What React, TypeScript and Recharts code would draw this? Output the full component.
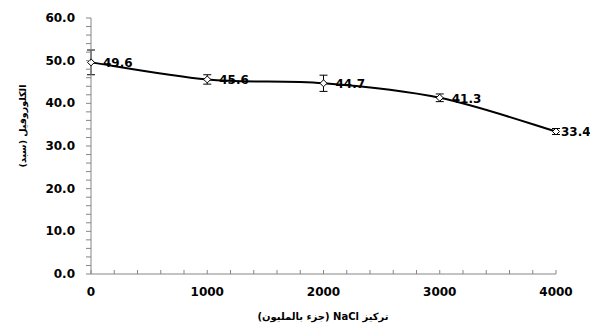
import React from "react";
import { LineChart, Line, XAxis, YAxis, ErrorBar, LabelList } from "recharts";

const concentrations = [0, 1000, 2000, 3000, 4000];
const chlorophyll = [49.6, 45.6, 44.7, 41.3, 33.4];
const errors = [2.9, 1.1, 1.9, 0.9, 0.7];
const xTicks = [0, 200, 400, 600, 800, 1000, 1200, 1400, 1600, 1800, 2000, 2200, 2400, 2600, 2800, 3000, 3200, 3400, 3600, 3800, 4000];
const yTicks = [0, 2, 4, 6, 8, 10, 12, 14, 16, 18, 20, 22, 24, 26, 28, 30, 32, 34, 36, 38, 40, 42, 44, 46, 48, 50, 52, 54, 56, 58, 60];

const data = concentrations.map((c, i) => ({ c, v: chlorophyll[i], err: errors[i] }));

const FONT = "'DejaVu Sans', Verdana, sans-serif";
const AXIS = "#868686";

// Excel-style smoothing (Catmull-Rom as cubic Bezier)
function excelSmooth(context: any) {
  let pts: number[][] = [];
  return {
    areaStart() {},
    areaEnd() {},
    lineStart() {
      pts = [];
    },
    point(x: number, y: number) {
      pts.push([+x, +y]);
    },
    lineEnd() {
      const n = pts.length;
      if (!n) return;
      context.moveTo(pts[0][0], pts[0][1]);
      for (let i = 0; i < n - 1; i++) {
        const p0 = pts[Math.max(i - 1, 0)];
        const p1 = pts[i];
        const p2 = pts[i + 1];
        const p3 = pts[Math.min(i + 2, n - 1)];
        context.bezierCurveTo(
          p1[0] + (p2[0] - p0[0]) / 6,
          p1[1] + (p2[1] - p0[1]) / 6,
          p2[0] - (p3[0] - p1[0]) / 6,
          p2[1] - (p3[1] - p1[1]) / 6,
          p2[0],
          p2[1]
        );
      }
    },
  };
}

function XTick({ x, y, payload }: any) {
  const v = payload.value;
  return (
    <g>
      <line x1={x} x2={x} y1={y - 4} y2={y} stroke={AXIS} />
      {v % 1000 === 0 && (
        <text x={x} y={y + 22} textAnchor="middle" fontFamily={FONT} fontWeight="bold" fontSize={12} fill="#000">
          {v}
        </text>
      )}
    </g>
  );
}

function YTick({ x, y, payload }: any) {
  const v = payload.value;
  return (
    <g>
      <line x1={x - 5} x2={x} y1={y} y2={y} stroke={AXIS} />
      {v % 10 === 0 && (
        <text x={x - 16} y={y + 4} textAnchor="end" fontFamily={FONT} fontWeight="bold" fontSize={12} fill="#000">
          {v.toFixed(1)}
        </text>
      )}
    </g>
  );
}

function Diamond({ cx, cy }: any) {
  if (cx == null || cy == null) return null;
  const r = 3.5;
  return (
    <polygon
      points={`${cx},${cy - r} ${cx + r},${cy} ${cx},${cy + r} ${cx - r},${cy}`}
      fill="#fff"
      stroke="#000"
      strokeWidth={1}
    />
  );
}

function ValueLabel({ x, y, value, index }: any) {
  const dx = index === concentrations.length - 1 ? 5 : 12;
  return (
    <text x={x + dx} y={y + 5} fontFamily={FONT} fontWeight="bold" fontSize={12} fill="#000">
      {Number(value).toFixed(1)}
    </text>
  );
}

export default function App() {
  return (
    <div style={{ position: "absolute", left: 0, top: 0, width: 590, height: 329, background: "#fff" }}>
      <LineChart width={590} height={329} data={data} margin={{ top: 18, right: 34, bottom: 15, left: 0 }}>
        <XAxis
          dataKey="c"
          type="number"
          domain={[0, 4000]}
          ticks={xTicks}
          interval={0}
          tick={<XTick />}
          tickLine={false}
          tickSize={0}
          tickMargin={0}
          height={40}
          stroke={AXIS}
        />
        <YAxis
          type="number"
          domain={[0, 60]}
          ticks={yTicks}
          interval={0}
          tick={<YTick />}
          tickLine={false}
          tickSize={0}
          tickMargin={0}
          width={91}
          stroke={AXIS}
        />
        <Line
          type={excelSmooth as any}
          dataKey="v"
          stroke="#000"
          strokeWidth={2}
          dot={<Diamond />}
          activeDot={false}
          isAnimationActive={false}
        >
          <ErrorBar dataKey="err" width={4} stroke="#000" strokeWidth={1} direction="y" />
          <LabelList dataKey="v" content={<ValueLabel />} />
        </Line>
      </LineChart>
      <div
        style={{
          position: "absolute",
          left: 0,
          top: 311,
          width: 646,
          textAlign: "center",
          fontFamily: FONT,
          fontWeight: "bold",
          fontSize: 10,
          direction: "rtl",
        }}
      >
        تركيز NaCl (جزء بالمليون)
      </div>
      <div
        style={{
          position: "absolute",
          left: 22,
          top: 126,
          transform: "translate(-50%, -50%) rotate(-90deg)",
          whiteSpace: "nowrap",
          fontFamily: FONT,
          fontWeight: "bold",
          fontSize: 9.5,
          direction: "rtl",
        }}
      >
        الكلوروفيل (سبد)
      </div>
    </div>
  );
}
